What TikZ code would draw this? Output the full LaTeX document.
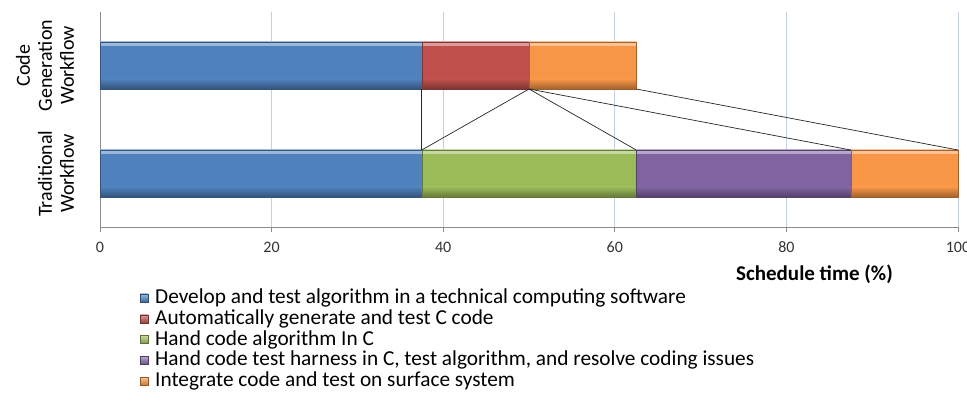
\documentclass[tikz,border=0pt]{standalone}
\usepackage{fontspec}
\setmainfont{Carlito}
\definecolor{cblue}{HTML}{4F81BD}
\definecolor{cred}{HTML}{C0504D}
\definecolor{cgreen}{HTML}{9BBB59}
\definecolor{cpurple}{HTML}{8064A2}
\definecolor{corange}{HTML}{F79646}
\definecolor{gridc}{HTML}{C3D1E0}
\definecolor{axisc}{HTML}{8C8C8C}
\tikzset{
  seg/.style={draw=#1!65!black, line width=0.5pt, fill=#1, inner sep=0pt, outer sep=0pt,
    minimum height=47pt, anchor=north west,
    path picture={
      \shade[top color=#1!55!white, bottom color=#1]
        (path picture bounding box.north west) rectangle ([yshift=-4pt]path picture bounding box.north east);
      \shade[top color=#1, bottom color=#1!65!black]
        ([yshift=10pt]path picture bounding box.south west) rectangle (path picture bounding box.south east);
    }},
  legsq/.style={draw=#1!60!black, line width=0.3pt, top color=#1!55!white, bottom color=#1!80!black,
    minimum size=8pt, inner sep=0pt},
  legtxt/.style={anchor=west, inner sep=0pt, font=\fontsize{21.3}{23}\selectfont},
  ticklab/.style={font=\fontsize{16}{18}\selectfont, text=black!80, inner sep=0pt},
  cattxt/.style={rotate=90, align=center, inner sep=0pt, font=\fontsize{20}{22}\selectfont},
  conn/.style={line width=0.7pt, black!85},
  gridl/.style={line width=0.8pt, gridc},
  axisl/.style={line width=0.8pt, axisc}
}
\begin{document}
\begin{tikzpicture}[x=1pt,y=-1pt]
\useasboundingbox (0,0) rectangle (967,411);
% grid
\foreach \p in {20,40,60,80,100}
  \draw[gridl] ({100+8.58*\p},12) -- ({100+8.58*\p},227);
% axes
\draw[axisl] (100,12) -- (100,232);
\draw[axisl] (100,227) -- (958,227);
\foreach \p in {20,40,60,80,100}
  \draw[axisl] ({100+8.58*\p},227) -- ({100+8.58*\p},232);
% tick labels
\foreach \p in {0,20,40,60,80,100}
  \node[ticklab] (t\p) at ({100+8.58*\p},247) {\p};
% code generation bar
\node[seg=cblue, minimum width={8.58*37.5pt}] (cg1) at (100,42) {};
\node[seg=cred, minimum width={8.58*12.5pt}] (cg2) at ({100+8.58*37.5},42) {};
\node[seg=corange, minimum width={8.58*12.5pt}] (cg3) at ({100+8.58*50},42) {};
% traditional bar
\node[seg=cblue, minimum width={8.58*37.5pt}] (tr1) at (100,150) {};
\node[seg=cgreen, minimum width={8.58*25pt}] (tr2) at ({100+8.58*37.5},150) {};
\node[seg=cpurple, minimum width={8.58*25pt}] (tr3) at ({100+8.58*62.5},150) {};
\node[seg=corange, minimum width={8.58*12.5pt}] (tr4) at ({100+8.58*87.5},150) {};
% connectors
\draw[conn] (cg1.south east) -- (tr1.north east);
\draw[conn] (cg2.south east) -- (tr2.north west);
\draw[conn] (cg2.south east) -- (tr2.north east);
\draw[conn] (cg2.south east) -- (tr3.north east);
\draw[conn] (cg3.south east) -- (tr4.north east);
% category labels
\node[cattxt] (catcg) at (45,65.5) {Code\\Generation\\Workflow};
\node[cattxt] (cattr) at (56,173.5) {Traditional\\Workflow};
% axis title
\node[anchor=east, inner sep=0pt, font=\fontsize{21}{23}\selectfont\bfseries] (xtitle) at (893,274) {Schedule time (\%)};
% legend
\node[legsq=cblue] (l1) at (144,298) {};
\node[legtxt] (lt1) at (155,298) {Develop and test algorithm in a technical computing software};
\node[legsq=cred] (l2) at (144,318.8) {};
\node[legtxt] (lt2) at (155,318.8) {Automatically generate and test C code};
\node[legsq=cgreen] (l3) at (144,339.6) {};
\node[legtxt] (lt3) at (155,339.6) {Hand code algorithm In C};
\node[legsq=cpurple] (l4) at (144,360.4) {};
\node[legtxt] (lt4) at (155,360.4) {Hand code test harness in C, test algorithm, and resolve coding issues};
\node[legsq=corange] (l5) at (144,381.2) {};
\node[legtxt] (lt5) at (155,381.2) {Integrate code and test on surface system};
\end{tikzpicture}
\end{document}
